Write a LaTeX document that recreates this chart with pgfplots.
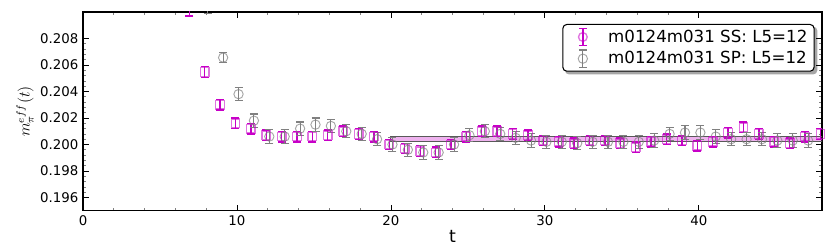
\documentclass[border=0pt]{standalone}
\usepackage{pgfplots}
\pgfplotsset{compat=1.18}
\usepackage{fontspec}
\setmainfont{DejaVu Sans}
\pgfdeclarelayer{background}
\pgfsetlayers{background,main}
\definecolor{mag}{rgb}{0.78,0,0.78}
\definecolor{gr}{rgb}{0.5,0.5,0.5}
\pgfplotstableread{
t y e
6.9 0.2101 0.0004
7.9 0.20547 0.0004
8.9 0.2030 0.0004
9.9 0.2016 0.0004
10.9 0.2012 0.0004
11.9 0.2007 0.0004
12.9 0.2006 0.0004
13.9 0.2006 0.0004
14.9 0.2006 0.0004
15.9 0.2007 0.0004
16.9 0.2010 0.0004
17.9 0.2008 0.0004
18.9 0.2006 0.0004
19.9 0.2000 0.0004
20.9 0.1997 0.0004
21.9 0.1995 0.0004
22.9 0.1994 0.0004
23.9 0.2000 0.0004
24.9 0.2006 0.0004
25.9 0.2010 0.0004
26.9 0.2010 0.0004
27.9 0.2008 0.0004
28.9 0.2007 0.0004
29.9 0.2003 0.0004
30.9 0.2002 0.0004
31.9 0.2001 0.0004
32.9 0.2003 0.0004
33.9 0.2003 0.0004
34.9 0.2001 0.0004
35.9 0.1998 0.0004
36.9 0.2002 0.0004
37.9 0.2004 0.0004
38.9 0.2003 0.0004
39.9 0.1999 0.0004
40.9 0.2002 0.0004
41.9 0.2009 0.0004
42.9 0.2013 0.0004
43.9 0.2008 0.0004
44.9 0.2002 0.0004
45.9 0.2001 0.0004
46.9 0.2006 0.0004
47.9 0.2008 0.0004
}\ss
\pgfplotstableread{
t y e
7.1 0.2115 0.0004
8.1 0.2103 0.0004
9.1 0.20656 0.0004
10.1 0.2038 0.0005
11.1 0.2018 0.0005
12.1 0.2006 0.0005
13.1 0.2006 0.0005
14.1 0.2012 0.0005
15.1 0.2015 0.0005
16.1 0.2014 0.0005
17.1 0.2010 0.0005
18.1 0.2008 0.0005
19.1 0.2004 0.0005
20.1 0.2000 0.0005
21.1 0.1996 0.0005
22.1 0.1994 0.0005
23.1 0.1994 0.0005
24.1 0.2000 0.0005
25.1 0.2007 0.0005
26.1 0.2010 0.0005
27.1 0.2008 0.0005
28.1 0.2005 0.0005
29.1 0.2003 0.0005
30.1 0.2002 0.0005
31.1 0.2002 0.0005
32.1 0.2001 0.0005
33.1 0.2002 0.0005
34.1 0.2002 0.0005
35.1 0.2002 0.0005
36.1 0.2002 0.0005
37.1 0.2003 0.0005
38.1 0.2008 0.0005
39.1 0.2009 0.0005
40.1 0.2009 0.0005
41.1 0.2006 0.0005
42.1 0.2004 0.0005
43.1 0.2004 0.0005
44.1 0.2004 0.0005
45.1 0.2003 0.0005
46.1 0.2003 0.0005
47.1 0.2003 0.0005
}\sp
\begin{document}
\begin{tikzpicture}
\begin{axis}[
  name=ax,
  scale only axis,
  width=554pt, height=149pt,
  xmin=0, xmax=48, ymin=0.195, ymax=0.210,
  xtick={0,10,20,30,40},
  minor x tick num=4,
  ytick={0.196,0.198,0.200,0.202,0.204,0.206,0.208},
  minor y tick num=4,
  tick align=inside,
  major tick length=4.5pt, minor tick length=2.2pt,
  tick style={black, line width=0.6pt},
  minor tick style={gray, line width=0.5pt},
  axis line style={line width=0.9pt},
  /pgf/number format/assume math mode=true,
  yticklabel style={/pgf/number format/fixed, /pgf/number format/precision=3, /pgf/number format/fixed zerofill},
  scaled y ticks=false,
  ticklabel style={font=\fontsize{10}{12}\selectfont},
  xlabel={t}, xlabel style={font=\fontsize{13}{15}\selectfont, yshift=3pt},
  ylabel={$m_\pi^{eff}(t)$}, ylabel style={font=\fontsize{11.5}{13}\selectfont, yshift=-2pt},
  legend style={name=leg, at={(0.99,0.94)}, anchor=north east, draw=black, fill=white, line width=0.8pt, rounded corners=3pt, font=\fontsize{12.5}{15}\selectfont, row sep=1.5pt, inner xsep=3pt, inner ysep=2pt},
  legend cell align=left,
]
\addplot[draw=gr!70!black, fill=mag, fill opacity=0.3, line width=0.7pt, forget plot] coordinates {(20,0.20022) (48,0.20022) (48,0.20062) (20,0.20062)} -- cycle;
\addplot[only marks, mark=square, mark size=3.2pt, mark options={draw=mag, draw opacity=0.55, line width=1pt},
  legend image code/.code={
    \path[draw=none, fill=none] (0pt,0pt) -- (29pt,0pt);
    \draw[mag, line width=1pt] (12pt,-6.5pt) -- (12pt,6.5pt) (9pt,-6.5pt) -- (15pt,-6.5pt) (9pt,6.5pt) -- (15pt,6.5pt);
    \draw[mag, draw opacity=0.55, line width=1pt] (8.8pt,-3.2pt) rectangle (15.2pt,3.2pt);},
  error bars/.cd, y dir=both, y explicit, error bar style={mag, line width=1pt}, error mark options={rotate=90, mag, mark size=3pt, line width=1pt}]
  table[x=t, y=y, y error=e] {\ss};
\addlegendentry{m0124m031 SS: L5=12}
\addplot[only marks, mark=o, mark size=3.5pt, mark options={draw=gr, draw opacity=0.7, line width=0.7pt},
  legend image code/.code={
    \path[draw=none, fill=none] (0pt,0pt) -- (29pt,0pt);
    \draw[gr, line width=0.8pt] (12pt,-6.5pt) -- (12pt,6.5pt) (9pt,-6.5pt) -- (15pt,-6.5pt) (9pt,6.5pt) -- (15pt,6.5pt);
    \draw[gr, draw opacity=0.7, line width=0.7pt] (12pt,0pt) circle (3.5pt);},
  error bars/.cd, y dir=both, y explicit, error bar style={gr, line width=0.8pt}, error mark options={rotate=90, gr, mark size=3pt, line width=0.8pt}]
  table[x=t, y=y, y error=e] {\sp};
\addlegendentry{m0124m031 SP: L5=12}
\end{axis}
\begin{pgfonlayer}{background}
\fill[black, opacity=0.35, rounded corners=3pt] ([xshift=2pt,yshift=-2pt]leg.south west) rectangle ([xshift=2pt,yshift=-2pt]leg.north east);
\end{pgfonlayer}
\path ([xshift=-62.25pt,yshift=-28.5pt]ax.south west) rectangle ([xshift=6pt,yshift=9pt]ax.north east);
\end{tikzpicture}
\end{document}
